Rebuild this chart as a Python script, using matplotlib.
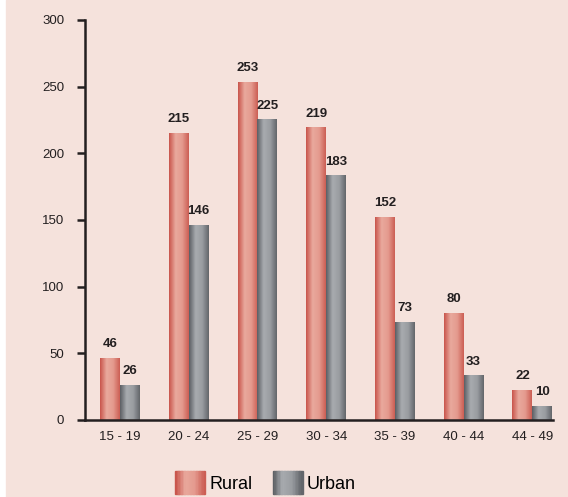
import matplotlib
matplotlib.use("Agg")
import matplotlib.pyplot as plt
import numpy as np
from matplotlib.colors import LinearSegmentedColormap
from matplotlib.patches import Rectangle
from matplotlib.legend_handler import HandlerBase

plt.rcParams["font.family"] = ["Liberation Sans", "DejaVu Sans"]

# women by age group, rural vs urban
age_groups = ["15 - 19", "20 - 24", "25 - 29", "30 - 34", "35 - 39", "40 - 44", "44 - 49"]
rural = [46, 215, 253, 219, 152, 80, 22]
urban = [26, 146, 225, 183, 73, 33, 10]
yticks = [0, 50, 100, 150, 200, 250, 300]

BG = "#f5e2dc"
red_cmap = LinearSegmentedColormap.from_list(
    "red", ["#c9554c", "#e9a99d", "#e49a8e", "#cc5e54"])
grey_cmap = LinearSegmentedColormap.from_list(
    "grey", ["#5c5f64", "#a8abaf", "#9a9da1", "#63666b"])

fig = plt.figure(figsize=(5.68, 4.97), dpi=100, facecolor="white")
fig.patches.append(Rectangle((6 / 568, 0), 1, 1, transform=fig.transFigure,
                             color=BG, zorder=-10))
ax = fig.add_axes([85 / 568, 1 - 420 / 497, (553 - 85) / 568, 400 / 497])
ax.set_facecolor("none")

x = np.arange(len(age_groups))
w = 0.29
grad = np.linspace(0, 1, 64).reshape(1, -1)


def grad_bars(xs, vals, cmap):
    bars = ax.bar(xs, vals, w, color="none", edgecolor="none")
    for b in bars:
        ax.imshow(grad, cmap=cmap, aspect="auto", zorder=2,
                  extent=(b.get_x(), b.get_x() + b.get_width(), 0, b.get_height()))
    return bars


rb = grad_bars(x - w / 2, rural, red_cmap)
ub = grad_bars(x + w / 2, urban, grey_cmap)
for bars, vals in ((rb, rural), (ub, urban)):
    for b, v in zip(bars, vals):
        ax.annotate(str(v), (b.get_x() + b.get_width() / 2, b.get_height()),
                    xytext=(0, 6), textcoords="offset points", ha="center",
                    va="bottom", fontsize=9.5, fontweight="bold", color="#231f20")

ax.set_xlim(-0.51, 6.30)
ax.set_ylim(0, 300)
ax.set_xticks(x, age_groups)
ax.set_yticks(yticks)
ax.tick_params(axis="x", length=0, pad=8, labelsize=9.5, colors="#231f20")
ax.tick_params(axis="y", length=6, width=1.8, pad=9, labelsize=9.5,
               colors="#231f20")
for s in ("top", "right"):
    ax.spines[s].set_visible(False)
for s in ("left", "bottom"):
    ax.spines[s].set_linewidth(1.8)
    ax.spines[s].set_color("#231f20")


class GradHandler(HandlerBase):
    def __init__(self, cmap):
        super().__init__()
        self.cmap = cmap

    def create_artists(self, legend, orig, xd, yd, width, height, fontsize, trans):
        n = 20
        out = []
        for i in range(n):
            out.append(Rectangle((-xd + width * i / n, -yd - height * 0.25),
                                 width / n + 0.3, height * 1.5,
                                 color=self.cmap(i / (n - 1)), transform=trans))
        return out


h_r = Rectangle((0, 0), 1, 1)
h_u = Rectangle((0, 0), 1, 1)
fig.legend([h_r, h_u], ["Rural", "Urban"], loc="center left",
           bbox_to_anchor=(159 / 568, 1 - 484 / 497), ncol=2, frameon=False,
           fontsize=13, handlelength=1.65, handleheight=0.9, handletextpad=0.25,
           columnspacing=1.1, borderaxespad=0.5,
           handler_map={h_r: GradHandler(red_cmap), h_u: GradHandler(grey_cmap)})

fig.savefig("out.png", dpi=100, facecolor=fig.get_facecolor())
